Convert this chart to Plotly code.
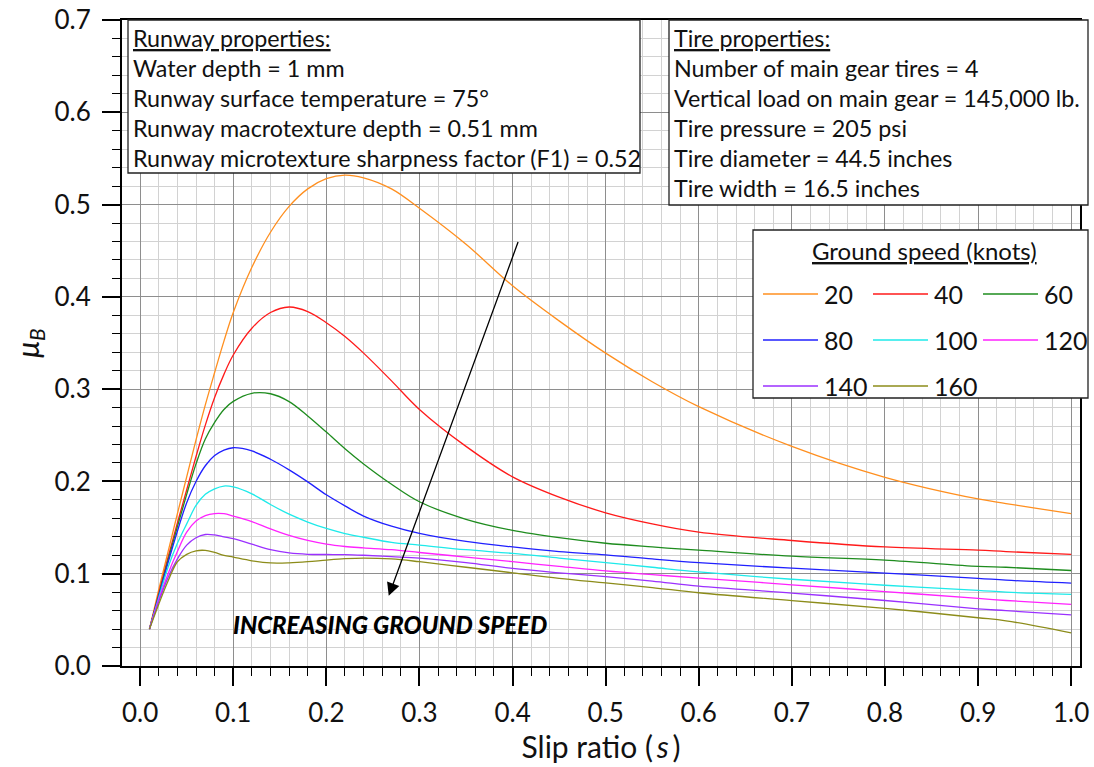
import plotly.graph_objects as go

# ---------------- data ----------------
slip = [0.01, 0.02, 0.03, 0.04, 0.05, 0.06, 0.07, 0.08, 0.09, 0.10, 0.12, 0.14, 0.16, 0.18,
        0.20, 0.22, 0.24, 0.27, 0.30, 0.35, 0.40, 0.45, 0.50, 0.55, 0.60, 0.70, 0.80, 0.90,
        0.93, 1.00]

speeds = ["20", "40", "60", "80", "100", "120", "140", "160"]

mu_20 = [0.040, 0.083, 0.124, 0.165, 0.205, 0.245, 0.283, 0.318, 0.352, 0.383, 0.432, 0.470,
         0.498, 0.517, 0.528, 0.532, 0.529, 0.517, 0.496, 0.457, 0.412, 0.374, 0.339, 0.308,
         0.281, 0.238, 0.2045, 0.181, 0.176, 0.165]
mu_40 = [0.040, 0.079, 0.118, 0.155, 0.191, 0.227, 0.261, 0.291, 0.316, 0.337, 0.366, 0.383,
         0.389, 0.384, 0.372, 0.357, 0.339, 0.309, 0.278, 0.238, 0.205, 0.183, 0.166, 0.154,
         0.145, 0.136, 0.129, 0.1255, 0.124, 0.121]
mu_60 = [0.040, 0.077, 0.115, 0.151, 0.186, 0.219, 0.246, 0.264, 0.278, 0.2867, 0.2955, 0.295,
         0.2865, 0.271, 0.2535, 0.2355, 0.219, 0.197, 0.178, 0.159, 0.147, 0.139, 0.133, 0.129,
         0.1255, 0.119, 0.1147, 0.108, 0.107, 0.1035]
mu_80 = [0.040, 0.076, 0.112, 0.146, 0.177, 0.200, 0.217, 0.228, 0.234, 0.2365, 0.233, 0.224,
         0.2125, 0.1995, 0.1855, 0.1735, 0.1625, 0.1515, 0.1437, 0.135, 0.129, 0.124, 0.1205,
         0.116, 0.112, 0.106, 0.1006, 0.095, 0.093, 0.0898]
mu_100 = [0.040, 0.074, 0.107, 0.133, 0.154, 0.174, 0.186, 0.192, 0.195, 0.194, 0.1865, 0.175,
          0.1645, 0.156, 0.149, 0.1435, 0.1395, 0.134, 0.131, 0.126, 0.122, 0.117, 0.112, 0.107,
          0.102, 0.094, 0.0875, 0.082, 0.080, 0.0777]
mu_120 = [0.040, 0.072, 0.100, 0.124, 0.145, 0.157, 0.163, 0.1652, 0.165, 0.1625, 0.1565, 0.1485,
          0.1415, 0.136, 0.132, 0.1295, 0.128, 0.126, 0.123, 0.118, 0.113, 0.108, 0.103, 0.099,
          0.0953, 0.088, 0.0807, 0.0732, 0.071, 0.0668]
mu_140 = [0.040, 0.070, 0.096, 0.116, 0.131, 0.139, 0.1425, 0.142, 0.140, 0.138, 0.132, 0.126,
          0.1225, 0.121, 0.1208, 0.1207, 0.120, 0.1185, 0.117, 0.112, 0.1057, 0.101, 0.0968,
          0.092, 0.0865, 0.079, 0.071, 0.062, 0.060, 0.0553]
mu_160 = [0.040, 0.067, 0.092, 0.113, 0.121, 0.1248, 0.1253, 0.123, 0.120, 0.118, 0.114, 0.1117,
          0.1118, 0.113, 0.1148, 0.1163, 0.117, 0.116, 0.113, 0.107, 0.101, 0.095, 0.090, 0.085,
          0.0794, 0.0708, 0.0625, 0.0523, 0.049, 0.036]

series = [mu_20, mu_40, mu_60, mu_80, mu_100, mu_120, mu_140, mu_160]
colors = ["#FF8F1F", "#FF1A1A", "#1E8C1E", "#2020FF", "#1EEAEA", "#FF22FF", "#9B30FF", "#8C8C1A"]

runway_lines = ["<u>Runway properties:</u>",
                "Water depth = 1 mm",
                "Runway surface temperature = 75°",
                "Runway macrotexture depth = 0.51 mm",
                "Runway microtexture sharpness factor (F1) = 0.52"]
tire_lines = ["<u>Tire properties:</u>",
              "Number of main gear tires = 4",
              "Vertical load on main gear = 145,000 lb.",
              "Tire pressure = 205 psi",
              "Tire diameter = 44.5 inches",
              "Tire width = 16.5 inches"]

x_ticks = [0.0, 0.1, 0.2, 0.3, 0.4, 0.5, 0.6, 0.7, 0.8, 0.9, 1.0]
y_ticks = [0.0, 0.1, 0.2, 0.3, 0.4, 0.5, 0.6, 0.7]

FONT = "Lato"
W, H = 1094, 767
L, R, T, B = 122, 1080, 20, 666   # plot area in pixels


def px(xp):
    return (xp - L) / (R - L)


def py(yp):
    return (B - yp) / (B - T)


fig = go.Figure()
for name, ys, c in zip(speeds, series, colors):
    fig.add_trace(go.Scatter(x=slip, y=ys, mode="lines", name=name,
                             line=dict(color=c, width=1.3, shape="spline", smoothing=1.0),
                             showlegend=False))

shapes = []
annotations = []
BOX_FONT = 23.3

# ---- runway properties box ----
shapes.append(dict(type="rect", xref="paper", yref="paper", layer="above",
                   x0=px(128), x1=px(640), y0=py(173), y1=py(20),
                   line=dict(color="#222", width=1.3), fillcolor="white"))
for i, t in enumerate(runway_lines):
    annotations.append(dict(xref="paper", yref="paper", x=px(131), y=py(38 + 30 * i),
                            xanchor="left", yanchor="middle", text=t, showarrow=False,
                            font=dict(family=FONT, size=BOX_FONT, color="#111")))

# ---- tire properties box ----
shapes.append(dict(type="rect", xref="paper", yref="paper", layer="above",
                   x0=px(669), x1=px(1088), y0=py(205), y1=py(20),
                   line=dict(color="#222", width=1.3), fillcolor="white"))
for i, t in enumerate(tire_lines):
    annotations.append(dict(xref="paper", yref="paper", x=px(672), y=py(38 + 30 * i),
                            xanchor="left", yanchor="middle", text=t, showarrow=False,
                            font=dict(family=FONT, size=BOX_FONT, color="#111")))

# ---- legend box (3 columns) ----
shapes.append(dict(type="rect", xref="paper", yref="paper", layer="above",
                   x0=px(753), x1=px(1088), y0=py(398), y1=py(230),
                   line=dict(color="#222", width=1.3), fillcolor="white"))
annotations.append(dict(xref="paper", yref="paper", x=px(924), y=py(250),
                        xanchor="center", yanchor="middle",
                        text="<u>Ground speed (knots)</u>", showarrow=False,
                        font=dict(family=FONT, size=24, color="#111")))
for i, (name, c) in enumerate(zip(speeds, colors)):
    col, row = i % 3, i // 3
    x0 = 763 + 110 * col
    yy = 294 + 46 * row
    shapes.append(dict(type="line", xref="paper", yref="paper", layer="above",
                       x0=px(x0), x1=px(x0 + 55), y0=py(yy), y1=py(yy),
                       line=dict(color=c, width=1.5)))
    annotations.append(dict(xref="paper", yref="paper", x=px(x0 + 59), y=py(yy),
                            xanchor="left", yanchor="middle", text=name, showarrow=False,
                            font=dict(family=FONT, size=25, color="#111")))

# ---- arrow and label ----
annotations.append(dict(x=0.267, y=0.076, ax=0.4065, ay=0.461, xref="x", yref="y",
                        axref="x", ayref="y", text="", showarrow=True,
                        arrowhead=2, arrowsize=2.0, arrowwidth=1.3, arrowcolor="black"))
annotations.append(dict(x=0.2685, y=0.045, xref="x", yref="y", text="INCREASING GROUND SPEED",
                        showarrow=False, xanchor="center", yanchor="middle",
                        font=dict(family=FONT, size=24, color="black", weight=900, style="italic")))

axis_common = dict(showline=True, linecolor="black", linewidth=2, mirror=True,
                   ticks="outside", ticklen=18, tickwidth=1.5, tickcolor="black",
                   showgrid=True, gridcolor="#8e8e8e", gridwidth=1.2, zeroline=False,
                   tickfont=dict(family=FONT, size=26, color="#111"),
                   tickformat=".1f", automargin=False)
minor_common = dict(dtick=0.02, tick0=0, ticks="outside", ticklen=8, tickwidth=1.3,
                    tickcolor="black", showgrid=True, gridcolor="#d2d2d2", gridwidth=1.3)

fig.update_xaxes(range=[-0.0195, 1.0095], tickvals=x_ticks, minor=minor_common,
                 title=dict(text="Slip ratio (\u2009<i>s</i>\u2009)",
                            font=dict(family=FONT, size=30, color="#111"), standoff=6),
                 ticklabelstandoff=5,
                 **axis_common)
fig.update_yaxes(range=[0, 0.7], tickvals=y_ticks, minor=minor_common,
                 title=dict(text="<i>μ<sub>B</sub></i>", font=dict(family=FONT, size=30, color="#111"),
                            standoff=6),
                 ticklabelstandoff=6,
                 **axis_common)

fig.update_layout(width=W, height=H, margin=dict(l=L, r=W - R, t=T, b=H - B),
                  plot_bgcolor="white", paper_bgcolor="white",
                  font=dict(family=FONT), showlegend=False,
                  shapes=shapes, annotations=annotations)

fig.write_html("out.html")
